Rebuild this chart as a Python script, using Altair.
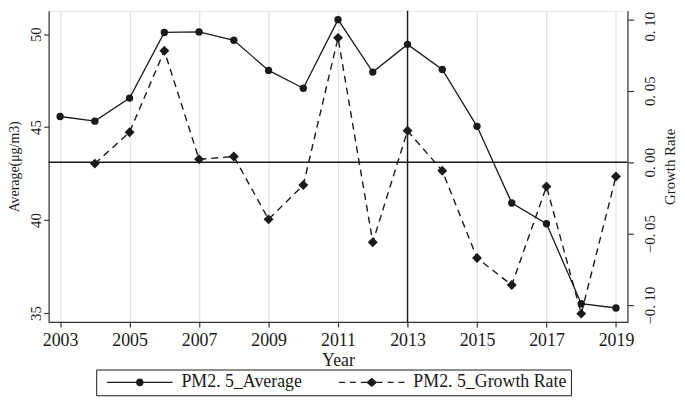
import altair as alt
import pandas as pd

# ---- data ----
years = list(range(2003, 2020))
pm_average = [45.57, 45.32, 46.56, 50.09, 50.12, 49.67, 48.05, 47.09, 50.78,
              47.96, 49.45, 48.10, 45.04, 40.92, 39.80, 35.50, 35.27]
pm_growth = [None, -0.001, 0.021, 0.078, 0.002, 0.004, -0.040, -0.016, 0.087,
             -0.056, 0.022, -0.006, -0.067, -0.086, -0.017, -0.106, -0.010]
x_tick_years = [2003, 2005, 2007, 2009, 2011, 2013, 2015, 2017, 2019]
left_ticks = [35, 40, 45, 50]
right_ticks = [-0.10, -0.05, 0.0, 0.05, 0.10]
series_names = ["PM2. 5_Average", "PM2. 5_Growth Rate"]
marker_year = [2013]
zero_growth = [0.0]

FONT = "Liberation Serif"
INK = "#1a1a1a"

df = pd.DataFrame({"Year": years, "Average": pm_average, "Growth": pm_growth})
df_growth = df.dropna(subset=["Growth"])

x_enc = alt.X(
    "Year:Q",
    scale=alt.Scale(domain=[2002.67, 2019.33], nice=False, zero=False),
    axis=alt.Axis(values=x_tick_years, format="d", title="Year", grid=True,
                  gridColor="#e2e2e2", gridWidth=1.3, tickSize=5, tickWidth=1.2,
                  labelPadding=5, labelFontSize=18, titleFontSize=18,
                  titlePadding=2, domainWidth=1.2),
)

y_left = alt.Y(
    "Average:Q",
    scale=alt.Scale(domain=[34.52, 51.26], nice=False, zero=False),
    axis=alt.Axis(orient="left", values=left_ticks, title="Average(μg/m3)",
                  grid=False, labelAngle=270, labelAlign="center",
                  labelBaseline="bottom", tickSize=5, tickWidth=1.2,
                  labelPadding=0, labelFontSize=15, titleFontSize=14,
                  titlePadding=7, domainWidth=1.2),
)

y_right = alt.Y(
    "Growth:Q",
    scale=alt.Scale(domain=[-0.1118, 0.106], nice=False, zero=False),
    axis=alt.Axis(orient="right", values=right_ticks, title="Growth Rate",
                  grid=False, labelAngle=270, labelAlign="center",
                  labelBaseline="top", titleAngle=270, titleBaseline="top",
                  labelExpr="replace(format(datum.value, '.2f'), '.', '. ')",
                  labelOffset={"condition": {"test": "datum.value > 0.09", "value": 7}, "value": 0},
                  tickSize=6, tickWidth=1.2, labelPadding=9, labelFontSize=15,
                  titleFontSize=15, titlePadding=5, domainWidth=1.2),
)


# legend symbols: line + marker drawn as filled custom symbol paths (1 unit = 5 px)
def bar(a, b, h=0.14):
    return f"M{a},{-h}H{b}V{h}H{a}Z"


sym_avg = (bar(-0.4, 5.5) + bar(6.9, 12.8)
           + "M6.96,0A0.76,0.76,0,1,1,5.44,0A0.76,0.76,0,1,1,6.96,0Z")
sym_growth = (bar(-0.4, 0.8) + bar(1.8, 3.0) + bar(4.0, 5.2)
              + bar(7.2, 8.4) + bar(9.4, 10.6) + bar(11.6, 12.8)
              + "M5.1,0L6.2,-0.95L7.3,0L6.2,0.95Z")

vrule = alt.Chart(pd.DataFrame({"Year": marker_year})).mark_rule(
    color=INK, strokeWidth=1.4).encode(x=x_enc)

avg_line = alt.Chart(df).mark_line(color=INK, strokeWidth=1.3).encode(x=x_enc, y=y_left)
avg_pts = alt.Chart(df).mark_point(shape="circle", filled=True, size=55,
                                   color=INK, opacity=1).encode(x=x_enc, y=y_left)

legend_layer = alt.Chart(df).transform_filter("false").mark_point(
    filled=True, color=INK, size=100, opacity=1
).encode(
    x=x_enc, y=y_left,
    shape=alt.Shape(
        "series:N",
        scale=alt.Scale(domain=series_names, range=[sym_avg, sym_growth]),
        legend=alt.Legend(
            title=None, orient="none", legendX=48, legendY=362,
            direction="horizontal", strokeColor=INK, padding=4,
            columnPadding=30, labelOffset=64, labelFont=FONT,
            labelFontSize=18, labelColor=INK, labelLimit=400,
            symbolSize=100, symbolFillColor=INK, symbolOpacity=1,
        ),
    ),
)

left = alt.layer(vrule, avg_line, avg_pts, legend_layer)

hrule = alt.Chart(pd.DataFrame({"Growth": zero_growth})).mark_rule(
    color=INK, strokeWidth=1.4).encode(y=y_right)
g_line = alt.Chart(df_growth).mark_line(color=INK, strokeWidth=1.4,
                                        strokeDash=[7, 5]).encode(x=x_enc, y=y_right)
g_pts = alt.Chart(df_growth).mark_point(shape="diamond", filled=True, size=100,
                                        color=INK, opacity=1).encode(x=x_enc, y=y_right)

right = alt.layer(hrule, g_line, g_pts)

chart = alt.layer(left, right).resolve_scale(y="independent").properties(
    width=584, height=314, padding=0, background="white"
).configure_view(
    stroke="#e6e6e6", strokeWidth=1
).configure_axis(
    labelFont=FONT, titleFont=FONT, labelColor=INK, titleColor=INK,
    domainColor="#333333", tickColor="#333333", titleFontWeight="normal",
)

chart.save("out.html", embed_options={"renderer": "svg", "actions": False})
